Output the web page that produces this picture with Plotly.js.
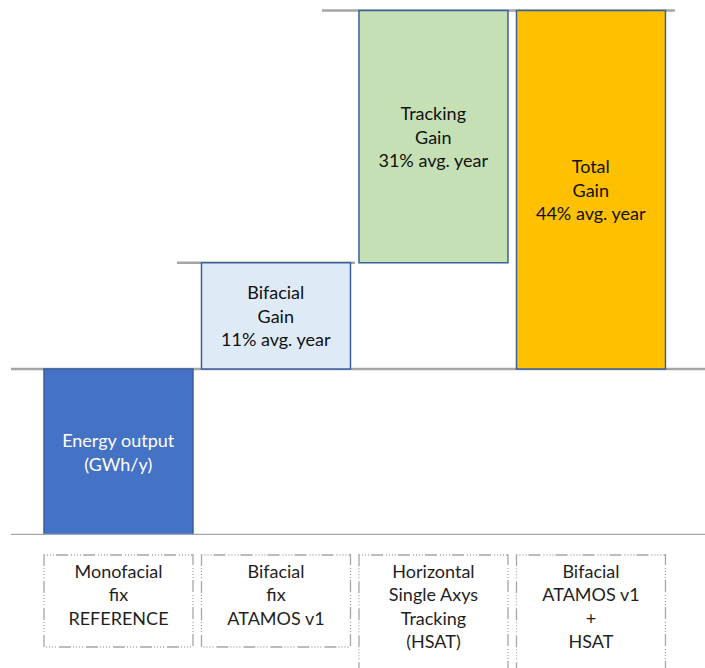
<!DOCTYPE html>
<html>
<head>
<meta charset="utf-8">
<script src="https://cdn.plot.ly/plotly-3.0.1.min.js"></script>
<style>html,body{margin:0;padding:0;background:#fff}#chart{width:705px;height:668px}</style>
</head>
<body>
<div id="chart"></div>
<script>
// Categories (bottom labels)
const categories = [
  'Monofacial<br>fix<br>REFERENCE',
  'Bifacial<br>fix<br>ATAMOS v1',
  'Horizontal<br>Single Axys<br>Tracking<br>(HSAT)',
  'Bifacial<br>ATAMOS v1<br>+<br>HSAT'
];
// Bar texts
const barLabels = [
  'Energy output<br>(GWh/y)',
  'Bifacial<br>Gain<br>11% avg. year',
  'Tracking<br>Gain<br>31% avg. year',
  'Total<br>Gain<br>44% avg. year'
];
// Schematic heights and bases (arbitrary units, reference = 100)
const heights = [100, 64, 152, 216];
const bases   = [0, 100, 164, 100];
const fillColors = ['#4472C4', '#DEEBF7', '#C5E0B4', '#FFC000'];
const textColors = ['#ffffff', '#111111', '#111111', '#111111'];

const FONT = 'Lato, "Open Sans", sans-serif';
const BW = 0.946;

const trace = {
  type: 'bar',
  x: categories,
  y: heights,
  base: bases,
  width: BW,
  marker: { color: fillColors, line: { color: '#3A5F9E', width: 1.5 } },
  text: barLabels,
  textposition: 'inside',
  insidetextanchor: 'middle',
  textangle: 0,
  textfont: { family: FONT, size: 18, color: textColors },
  hoverinfo: 'none'
};

const shapes = [];
const lineStyle = { color: '#a6a6a6', width: 2.5 };
// level lines
shapes.push({ type: 'line', xref: 'paper', yref: 'y', x0: 0, x1: 1, y0: bases[0], y1: bases[0], line: lineStyle, layer: 'above' });
shapes.push({ type: 'line', xref: 'paper', yref: 'y', x0: 0, x1: 1, y0: bases[1], y1: bases[1], line: lineStyle, layer: 'below' });
shapes.push({ type: 'line', xref: 'x', yref: 'y', x0: 0.371, x1: 1.502, y0: bases[2], y1: bases[2], line: lineStyle, layer: 'below' });
shapes.push({ type: 'line', xref: 'x', yref: 'y', x0: 1.292, x1: 3.533, y0: bases[2] + heights[2], y1: bases[2] + heights[2], line: lineStyle, layer: 'below' });
// dotted label boxes
const boxBottoms = [-0.2093, -0.2093, -0.26, -0.26];
categories.forEach((c, i) => {
  shapes.push({
    type: 'rect', xref: 'x', yref: 'paper',
    x0: i - BW / 2, x1: i + BW / 2, y0: -0.0374, y1: boxBottoms[i],
    line: { color: '#a6a6a6', width: 1.3, dash: '1px,2px,1px,2px,1px,2px,1px,2px,12px,3px' },
    fillcolor: 'rgba(0,0,0,0)'
  });
});

const layout = {
  width: 705, height: 668,
  margin: { l: 11, r: 0, t: 0, b: 133 },
  paper_bgcolor: '#ffffff', plot_bgcolor: '#ffffff',
  showlegend: false,
  bargap: 0,
  xaxis: {
    type: 'category',
    range: [-0.6825, 3.724],
    showgrid: false, zeroline: false, showline: false, ticks: '',
    ticklabelstandoff: 24,
    tickfont: { family: FONT, size: 18, color: '#1f1f1f' },
    fixedrange: true
  },
  yaxis: {
    range: [0, 322.3],
    showgrid: false, zeroline: false, showline: false, showticklabels: false, ticks: '',
    fixedrange: true
  },
  shapes: shapes
};

Plotly.newPlot('chart', [trace], layout, { displayModeBar: false, staticPlot: true });
</script>
</body>
</html>
